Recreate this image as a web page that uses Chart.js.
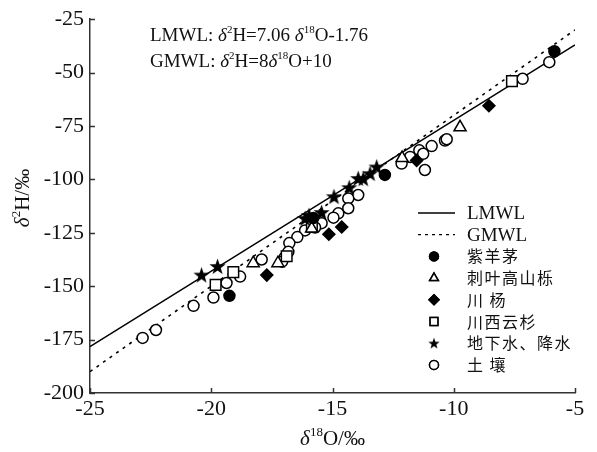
<!DOCTYPE html>
<html>
<head>
<meta charset="utf-8">
<script src="https://cdn.jsdelivr.net/npm/chart.js@4.4.1/dist/chart.umd.min.js"></script>
<style>
  html, body { margin: 0; padding: 0; background: #fff; }
</style>
</head>
<body>
<canvas id="chart" width="597" height="452"></canvas>
<script>
// Axis ticks
const xTicks = [-25, -20, -15, -10, -5];
const yTicks = [-200, -175, -150, -125, -100, -75, -50, -25];

// Meteoric water lines (end points at the plot edges)
const lmwlX = [-25, -5];
const lmwlY = [-178.26, -37.06];
const gmwlX = [-25, -5];
const gmwlY = [-190, -30];

// 紫羊茅
const festucaX = [-5.85, -12.84, -15.79, -19.25];
const festucaY = [-40.0, -97.9, -118.1, -154.5];

// 刺叶高山栎
const quercusX = [-9.74, -12.13, -15.86, -17.25, -18.27];
const quercusY = [-75.6, -90.0, -123.0, -139.2, -139.2];

// 川杨
const populusX = [-8.55, -11.53, -14.62, -15.15, -17.71];
const populusY = [-65.5, -91.1, -122.3, -125.7, -144.8];

// 川西云杉
const piceaX = [-7.60, -16.89, -19.09, -19.82, -15.85];
const piceaY = [-54.0, -136.0, -143.4, -149.4, -122.2];

// 地下水、降水
const waterX = [-20.40, -19.74, -16.13, -15.97, -15.45, -14.94, -14.31, -13.94, -13.73, -13.45, -13.18];
const waterY = [-144.8, -140.8, -118.3, -116.9, -115.5, -108.1, -103.9, -99.6, -99.7, -97.3, -94.2];

// 土壤
const soilX = [-6.06, -7.16, -10.36, -10.29, -10.91, -11.42, -11.26, -11.80, -12.15, -11.19,
               -13.94, -14.35, -14.35, -14.76, -14.96, -15.45, -15.72, -16.13, -16.45, -16.78,
               -16.82, -16.98, -17.08, -17.92, -18.81, -19.37, -19.91, -20.73, -22.28, -22.83];
const soilY = [-45.1, -52.9, -81.8, -81.2, -84.4, -86.4, -88.0, -89.5, -92.6, -95.6,
               -107.3, -108.9, -113.5, -115.9, -117.9, -120.5, -122.5, -123.9, -127.0, -129.8,
               -133.9, -136.6, -138.5, -137.5, -145.5, -148.5, -155.3, -159.2, -170.5, -174.2];

const SERIF = '"Liberation Serif", "DejaVu Serif", serif';
const CJK = '"Noto Sans CJK SC", sans-serif';
const AXIS = '#333';

function zip(xs, ys) {
    return xs.map((x, i) => ({ x: x, y: ys[i] }));
}

// filled five-pointed star used as a point style
function makeStar(R) {
    const r = R * 0.4;
    const size = Math.ceil(2 * R + 2);
    const c = document.createElement('canvas');
    c.width = size;
    c.height = size;
    const g = c.getContext('2d');
    g.beginPath();
    for (let i = 0; i < 10; i++) {
        const a = -Math.PI / 2 + i * Math.PI / 5;
        const rr = i % 2 ? r : R;
        g.lineTo(size / 2 + rr * Math.cos(a), size / 2 + 0.5 + rr * Math.sin(a));
    }
    g.closePath();
    g.fillStyle = '#000';
    g.fill();
    return c;
}

const starBig = makeStar(8.5);
const starSmall = makeStar(6);

const seriesNames = ['紫羊茅', '刺叶高山栎', '川 杨', '川西云杉', '地下水、降水', '土 壤'];

// draw text runs with italics / superscripts
function drawRich(ctx, x, y, runs, size) {
    ctx.save();
    ctx.textBaseline = 'alphabetic';
    ctx.textAlign = 'left';
    ctx.fillStyle = '#111';
    runs.forEach(run => {
        const s = run.sup ? Math.round(size * 0.6) : size;
        ctx.font = (run.it ? 'italic ' : '') + s + 'px ' + SERIF;
        const yy = run.sup ? y - size * 0.42 : y;
        ctx.fillText(run.t, x, yy);
        x += ctx.measureText(run.t).width;
    });
    ctx.restore();
}

function richWidth(ctx, runs, size) {
    let w = 0;
    ctx.save();
    runs.forEach(run => {
        const s = run.sup ? Math.round(size * 0.6) : size;
        ctx.font = (run.it ? 'italic ' : '') + s + 'px ' + SERIF;
        w += ctx.measureText(run.t).width;
    });
    ctx.restore();
    return w;
}

const decorPlugin = {
    id: 'decor',
    afterDraw(chart) {
        const ctx = chart.ctx;
        const xs = chart.scales.x;
        const ys = chart.scales.y;
        const area = chart.chartArea;

        // inward tick marks
        ctx.save();
        ctx.strokeStyle = AXIS;
        ctx.lineWidth = 1.5;
        ctx.beginPath();
        xTicks.forEach(v => {
            const px = Math.round(xs.getPixelForValue(v)) + 0.5;
            ctx.moveTo(px, area.bottom);
            ctx.lineTo(px, area.bottom - 5);
        });
        yTicks.forEach(v => {
            const py = Math.round(ys.getPixelForValue(v)) + 0.5;
            ctx.moveTo(area.left, py);
            ctx.lineTo(area.left + 5, py);
        });
        ctx.stroke();
        ctx.restore();

        // equations
        drawRich(ctx, 150, 41, [
            { t: 'LMWL: ' }, { t: 'δ', it: true }, { t: '2', sup: true },
            { t: 'H=7.06 ' }, { t: 'δ', it: true }, { t: '18', sup: true }, { t: 'O-1.76' }
        ], 19);
        drawRich(ctx, 150, 67, [
            { t: 'GMWL: ' }, { t: 'δ', it: true }, { t: '2', sup: true },
            { t: 'H=8' }, { t: 'δ', it: true }, { t: '18', sup: true }, { t: 'O+10' }
        ], 19);

        // x axis title
        const xt = [{ t: 'δ', it: true }, { t: '18', sup: true }, { t: 'O/‰' }];
        const xw = richWidth(ctx, xt, 21);
        drawRich(ctx, (area.left + area.right) / 2 - xw / 2, 445, xt, 21);

        // y axis title, rotated
        const yt = [{ t: 'δ', it: true }, { t: '2', sup: true }, { t: 'H/‰' }];
        const yw = richWidth(ctx, yt, 21);
        ctx.save();
        ctx.translate(29, 198);
        ctx.rotate(-Math.PI / 2);
        drawRich(ctx, -yw / 2, 0, yt, 21);
        ctx.restore();

        // legend
        const lx = 418, mx = 434, tx = 467;
        let ly = 213;
        const step = 21.7;
        ctx.save();
        ctx.strokeStyle = '#000';
        ctx.lineWidth = 1.3;
        ctx.beginPath();
        ctx.moveTo(lx, ly); ctx.lineTo(lx + 37, ly);
        ctx.stroke();
        ctx.setLineDash([3, 4]);
        ctx.beginPath();
        ctx.moveTo(lx, ly + step); ctx.lineTo(lx + 37, ly + step);
        ctx.stroke();
        ctx.setLineDash([]);
        ctx.fillStyle = '#111';
        ctx.font = '19px ' + SERIF;
        ctx.textBaseline = 'middle';
        ctx.fillText('LMWL', tx, ly + 1);
        ctx.fillText('GMWL', tx, ly + step + 1);

        ctx.font = '16px ' + CJK;
        if ('letterSpacing' in ctx) ctx.letterSpacing = '1.5px';
        seriesNames.forEach((name, i) => {
            const yy = ly + step * (i + 2);
            const ds = chart.data.datasets[i + 2];
            const style = ds.legendStyle;
            Chart.helpers.drawPoint(ctx, {
                pointStyle: style,
                radius: ds.legendRadius,
                borderWidth: 1.5
            }, mx, yy);
            ctx.fillStyle = ds.backgroundColor;
            ctx.strokeStyle = '#000';
            ctx.lineWidth = 1.5;
            if (style !== starSmall) {
                ctx.fill();
                ctx.stroke();
            }
            ctx.fillStyle = '#111';
            ctx.fillText(name, tx, yy);
        });
        ctx.restore();
    }
};

function pointSet(label, xs, ys, style, radius, fill, legendStyle, legendRadius, order) {
    return {
        label: label,
        data: zip(xs, ys),
        pointStyle: style,
        pointRadius: radius,
        pointHoverRadius: radius,
        backgroundColor: fill,
        borderColor: '#000',
        borderWidth: 1.5,
        showLine: false,
        legendStyle: legendStyle,
        legendRadius: legendRadius,
        order: order
    };
}

new Chart(document.getElementById('chart'), {
    type: 'scatter',
    data: {
        datasets: [
            {
                label: 'LMWL', data: zip(lmwlX, lmwlY), showLine: true,
                borderColor: '#000', borderWidth: 1.4, pointRadius: 0, order: 10
            },
            {
                label: 'GMWL', data: zip(gmwlX, gmwlY), showLine: true,
                borderColor: '#000', borderWidth: 1.6, borderDash: [3, 5], pointRadius: 0, order: 11
            },
            pointSet('紫羊茅', festucaX, festucaY, 'circle', 5.5, '#000', 'circle', 4.5, 2),
            pointSet('刺叶高山栎', quercusX, quercusY, 'triangle', 7, '#fff', 'triangle', 5, 3),
            pointSet('川杨', populusX, populusY, 'rectRot', 6, '#000', 'rectRot', 5, 4),
            pointSet('川西云杉', piceaX, piceaY, 'rect', 7.5, '#fff', 'rect', 5.5, 5),
            pointSet('地下水、降水', waterX, waterY, starBig, 8.5, '#000', starSmall, 6, 1),
            pointSet('土壤', soilX, soilY, 'circle', 5.5, '#fff', 'circle', 4.5, 6)
        ]
    },
    options: {
        responsive: false,
        animation: false,
        devicePixelRatio: 1,
        layout: { padding: { top: 16, right: 22, left: 0, bottom: 0 } },
        plugins: {
            legend: { display: false },
            tooltip: { enabled: false }
        },
        scales: {
            x: {
                type: 'linear',
                min: -25, max: -5,
                afterFit: s => { s.height = 59; },
                afterBuildTicks: s => { s.ticks = xTicks.map(v => ({ value: v })); },
                grid: { display: false, drawTicks: false },
                border: { display: true, color: AXIS, width: 1.5 },
                ticks: {
                    padding: 3,
                    color: '#111',
                    font: { family: SERIF, size: 22 }
                }
            },
            y: {
                type: 'linear',
                min: -200, max: -25,
                afterFit: s => { s.width = 90; },
                afterBuildTicks: s => { s.ticks = yTicks.map(v => ({ value: v })); },
                grid: { display: false, drawTicks: false },
                border: { display: true, color: AXIS, width: 1.5 },
                ticks: {
                    padding: 6,
                    color: '#111',
                    font: { family: SERIF, size: 22 }
                }
            }
        }
    },
    plugins: [decorPlugin]
});
</script>
</body>
</html>
